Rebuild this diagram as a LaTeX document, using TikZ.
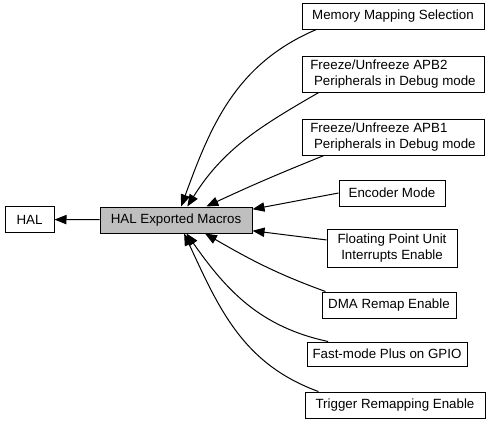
\documentclass[tikz,border=0pt]{standalone}
\usepackage{fontspec}
\setmainfont{Liberation Sans}
\usepackage{tikz}
\usetikzlibrary{arrows.meta}

\begin{document}
\begin{tikzpicture}[x=0.75pt, y=-0.75pt,
			grp/.style={draw=black, fill=white, line width=0.75pt, inner sep=0pt, font=\fontsize{10}{11.5}\selectfont, minimum height=19.5pt},
			cur/.style={grp, fill=black!25},
			twoline/.style={grp, align=left, minimum height=27pt},
			arrow/.style={-{Triangle[length=9pt, width=7pt]}, line width=0.75pt}
		]
		\useasboundingbox (0,0) rectangle (492,421);
		\node[grp, minimum width=36.75pt] (hal) at (29.5, 219.5) {HAL};
		\node[cur, minimum width=114pt] (macros) at (176, 220) {HAL Exported Macros};
		\node[grp, minimum width=136.5pt] (mem) at (393, 16) {Memory Mapping Selection};
		\node[twoline, minimum width=136.5pt] (apbtwo) at (393, 74) {Freeze/Unfreeze APB2\\\hspace*{.28em}Peripherals in Debug mode};
		\node[twoline, minimum width=136.5pt] (apbone) at (393, 137) {Freeze/Unfreeze APB1\\\hspace*{.28em}Peripherals in Debug mode};
		\node[grp, minimum width=79.5pt] (enc) at (392, 193) {Encoder Mode};
		\node[twoline, minimum width=97.5pt, minimum height=28.5pt] (fpu) at (392, 248) {Floating Point Unit\\\hspace*{.28em}Interrupts Enable};
		\node[grp, minimum width=100.5pt] (dma) at (389, 305) {DMA Remap Enable};
		\node[grp, minimum width=120pt, minimum height=18pt] (fmp) at (387, 354) {Fast-mode Plus on GPIO};
		\node[grp, minimum width=135pt] (trig) at (395, 405) {Trigger Remapping Enable};
		\draw[arrow] (macros) -- (hal);
		\draw[arrow] (mem.190) to[out=203, in=70] (macros.69);
		\draw[arrow] (apbtwo.194) to[out=210, in=58] (macros.50);
		\draw[arrow] (apbone.195) to[out=202, in=25] (macros.24);
		\draw[arrow] (enc.west) -- (macros.8);
		\draw[arrow] (fpu.173) -- (macros.-8);
		\draw[arrow] (dma.168) to[out=160, in=-30] (macros.-25);
		\draw[arrow] (fmp.168) to[out=168, in=-55] (macros.-52);
		\draw[arrow] (trig.170) to[out=160, in=-65] (macros.-59);
	\end{tikzpicture}
\end{document}
